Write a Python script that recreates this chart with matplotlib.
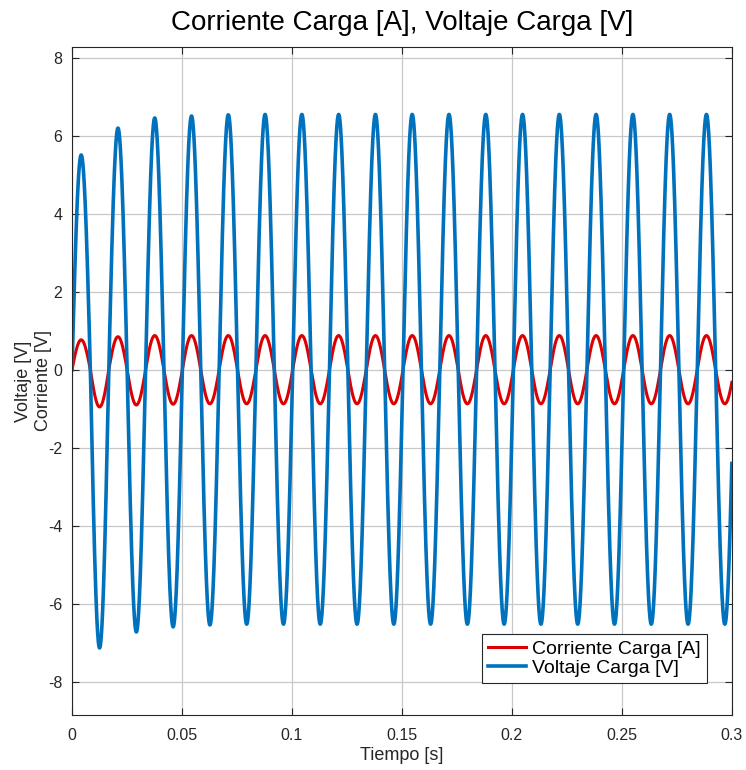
import numpy as np
import matplotlib
matplotlib.use('Agg')
import matplotlib.pyplot as plt

plt.rcParams['font.family'] = ['Liberation Sans', 'DejaVu Sans']
plt.rcParams['axes.unicode_minus'] = False

freq = 59.8

# amplitud de cada medio ciclo (pico +, valle -, alternados)
volt_peaks = [5.51, 6.20, 6.46, 6.51, 6.54, 6.55, 6.55, 6.55, 6.55,
              6.55, 6.55, 6.55, 6.55, 6.55, 6.55, 6.55, 6.55, 6.55]
volt_troughs = [7.13, 6.72, 6.59, 6.54, 6.52, 6.52, 6.52, 6.52, 6.52,
                6.52, 6.52, 6.52, 6.52, 6.52, 6.52, 6.52, 6.52, 6.52]
curr_peaks = [0.77, 0.85, 0.88, 0.88, 0.88, 0.88, 0.88, 0.88, 0.88,
              0.88, 0.88, 0.88, 0.88, 0.88, 0.88, 0.88, 0.88, 0.88]
curr_troughs = [0.95, 0.90, 0.88, 0.87, 0.87, 0.87, 0.87, 0.87, 0.87,
                0.87, 0.87, 0.87, 0.87, 0.87, 0.87, 0.87, 0.87, 0.87]

xticks = [0, 0.05, 0.1, 0.15, 0.2, 0.25, 0.3]
xticklabels = ['0', '0.05', '0.1', '0.15', '0.2', '0.25', '0.3']
yticks = [-8, -6, -4, -2, 0, 2, 4, 6, 8]


def half_amps(peaks, troughs):
    out = []
    for p, q in zip(peaks, troughs):
        out += [p, q]
    return np.array(out)


t = np.linspace(0, 0.3, 6000)
k = np.minimum((2 * freq * t).astype(int), 35)
s = np.sin(2 * np.pi * freq * t)
volt = s * half_amps(volt_peaks, volt_troughs)[k]
curr = s * half_amps(curr_peaks, curr_troughs)[k]

fig = plt.figure(figsize=(7.46, 7.70), dpi=100)
ax = fig.add_axes([0.0965, 0.0714, 0.8845, 0.8676])

ax.plot(t, curr, color='#dd0000', lw=2.2, label='Corriente Carga [A]')
ax.plot(t, volt, color='#0072BD', lw=2.6, label='Voltaje Carga [V]')

ax.set_xlim(0, 0.3)
ax.set_ylim(-8.85, 8.28)
ax.set_xticks(xticks)
ax.set_xticklabels(xticklabels)
ax.set_yticks(yticks)
ax.tick_params(direction='in', top=True, right=True, labelsize=11.5,
               colors='#262626', length=5, width=0.8)
ax.tick_params(axis='x', pad=9)
ax.tick_params(axis='y', pad=7)
ax.grid(True, color='#c8c8c8', lw=0.9)
for sp in ax.spines.values():
    sp.set_color('#262626')
    sp.set_linewidth(0.8)

ax.set_title('Corriente Carga [A], Voltaje Carga [V]', fontsize=20, pad=12)
ax.set_xlabel('Tiempo [s]', fontsize=13, color='#262626', labelpad=3)
ax.set_ylabel('Voltaje [V]\nCorriente [V]', fontsize=13, color='#262626',
              linespacing=1.2)
ax.yaxis.set_label_coords(-0.031, 0.5)

leg = ax.legend(loc='lower right', bbox_to_anchor=(0.962, 0.048), fontsize=14,
                fancybox=False, framealpha=1, edgecolor='#262626',
                handlelength=2.0, handletextpad=0.3, borderpad=0.3,
                labelspacing=0.1, borderaxespad=0)
leg.get_frame().set_linewidth(0.8)

fig.savefig('out.png', dpi=100)
